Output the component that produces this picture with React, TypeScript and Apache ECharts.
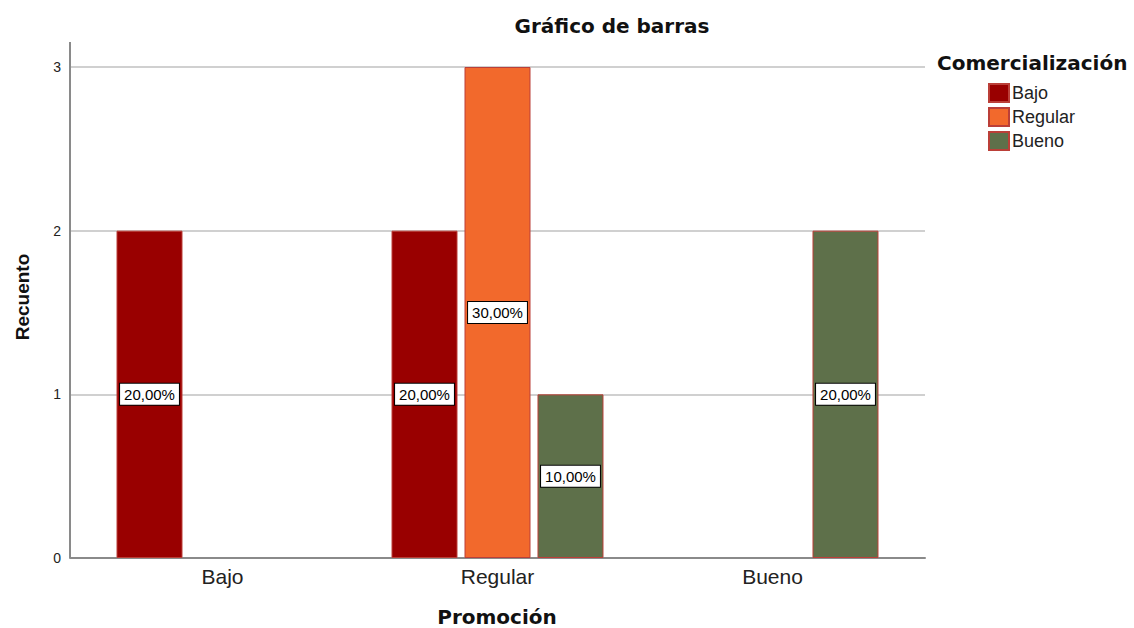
import React, { useEffect, useRef } from "react";
import * as echarts from "echarts";

const categories = ["Bajo", "Regular", "Bueno"];
const seriesNames = ["Bajo", "Regular", "Bueno"];
const bajoValues = [2, 2, null];
const regularValues = [null, 3, null];
const buenoValues = [null, 1, 2];
const totalCount = 10;
const yTicks = [0, 1, 2, 3];
const colors = ["#990000", "#F2692C", "#5E704A"];

const FONT = "'Liberation Sans', Arial, sans-serif";
const WIDE = "'DejaVu Sans', 'Liberation Sans', sans-serif";

function pctLabel(v: number) {
  return ((v / totalCount) * 100).toFixed(2).replace(".", ",") + "%";
}

export default function App() {
  const ref = useRef<HTMLDivElement>(null);

  useEffect(() => {
    if (!ref.current) return;
    const chart = echarts.init(ref.current, undefined, { renderer: "svg" });
    const top = 67;
    const bottom = 70;
    const values = [bajoValues, regularValues, buenoValues];

    chart.setOption({
      animation: false,
      backgroundColor: "#ffffff",
      textStyle: { fontFamily: FONT },
      grid: [
        { left: 70, right: 209, top, bottom },
        { left: 85, right: 224, top, bottom },
      ],
      xAxis: [
        {
          gridIndex: 0,
          type: "value",
          min: 0,
          max: 1,
          axisLine: { show: true, lineStyle: { color: "#8a8a8a", width: 2 } },
          axisTick: { show: false },
          axisLabel: { show: false },
          splitLine: { show: false },
        },
        {
          gridIndex: 1,
          type: "category",
          data: categories,
          axisLine: { show: false },
          axisTick: { show: false },
          axisLabel: { fontSize: 21, color: "#222", margin: 8, fontFamily: FONT },
        },
      ],
      yAxis: [
        {
          gridIndex: 0,
          type: "value",
          min: yTicks[0],
          max: yTicks[yTicks.length - 1],
          interval: 1,
          axisLine: { show: false },
          axisTick: { show: false },
          axisLabel: { fontSize: 14, color: "#222", margin: 9, fontFamily: FONT },
          splitLine: { show: true, lineStyle: { color: "#d0d0d0", width: 2 } },
        },
        {
          gridIndex: 1,
          type: "value",
          min: yTicks[0],
          max: yTicks[yTicks.length - 1],
          show: false,
          splitLine: { show: false },
        },
      ],
      legend: {
        orient: "vertical",
        left: 988,
        top: 83,
        padding: 0,
        itemWidth: 20,
        itemHeight: 18,
        itemGap: 4,
        icon: "rect",
        textStyle: { fontSize: 18, color: "#222", fontFamily: FONT, padding: [0, 0, 0, -2] },
        data: seriesNames,
      },
      series: seriesNames.map((name, i) => ({
        name,
        type: "bar",
        xAxisIndex: 1,
        yAxisIndex: 1,
        data: values[i].map((v) => (v == null ? "-" : v)),
        barWidth: 66,
        barGap: "10.6%",
        itemStyle: { color: colors[i], borderColor: "#bb3f38", borderWidth: 1 },
        label: {
          show: true,
          position: "inside",
          formatter: (p: any) => pctLabel(p.value),
          fontSize: 15,
          lineHeight: 16,
          color: "#000",
          fontFamily: FONT,
          backgroundColor: "#ffffff",
          borderColor: "#000",
          borderWidth: 1,
          padding: [3, 4, 2, 4],
        },
      })),
      graphic: [
        {
          type: "line",
          shape: { x1: 70, y1: 42, x2: 70, y2: 558 },
          style: { stroke: "#8a8a8a", lineWidth: 2 },
          z: 10,
        },
        {
          type: "text",
          x: 612,
          y: 26,
          style: {
            text: "Gráfico de barras",
            font: `bold 20px ${WIDE}`,
            fill: "#111",
            textAlign: "center",
            textVerticalAlign: "middle",
          },
        },
        {
          type: "text",
          x: 937,
          y: 63,
          style: {
            text: "Comercialización",
            font: `bold 20px ${WIDE}`,
            fill: "#111",
            textAlign: "left",
            textVerticalAlign: "middle",
          },
        },
        {
          type: "text",
          x: 497,
          y: 617,
          style: {
            text: "Promoción",
            font: `bold 20px ${WIDE}`,
            fill: "#111",
            textAlign: "center",
            textVerticalAlign: "middle",
          },
        },
        {
          type: "text",
          x: 22,
          y: 297,
          rotation: Math.PI / 2,
          style: {
            text: "Recuento",
            font: `bold 19px ${FONT}`,
            fill: "#111",
            textAlign: "center",
            textVerticalAlign: "middle",
          },
        },
      ],
    });

    return () => chart.dispose();
  }, []);

  return (
    <div
      ref={ref}
      style={{ position: "fixed", left: 0, top: 0, width: 1134, height: 628 }}
    />
  );
}
